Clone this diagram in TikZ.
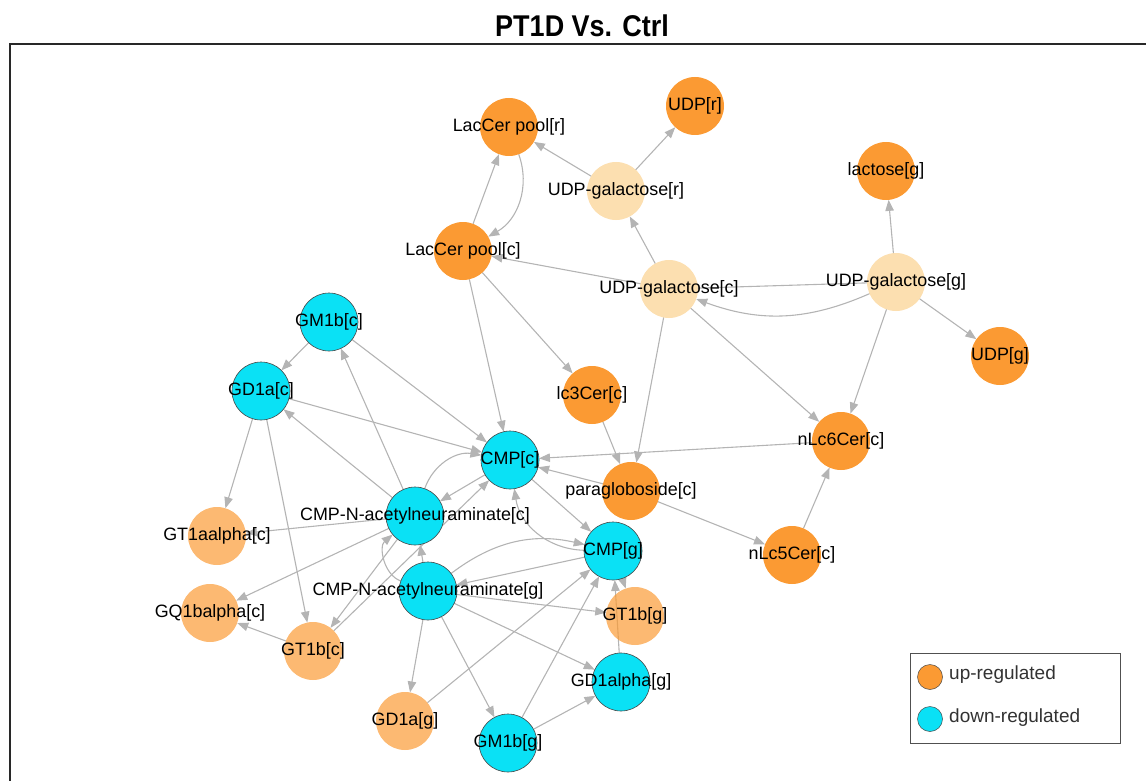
\documentclass[tikz,border=0pt]{standalone}
\usepackage{fontspec}
\setmainfont{Liberation Sans}
\usetikzlibrary{arrows.meta}
\pgfdeclarelayer{bg}
\pgfsetlayers{bg,main}
\definecolor{upc}{RGB}{251,154,51}
\definecolor{plc}{RGB}{248,175,58}
\definecolor{dnc}{RGB}{10,225,245}
\definecolor{bordc}{RGB}{70,70,70}
\definecolor{edgec}{RGB}{180,180,180}
\definecolor{framec}{RGB}{40,40,40}
\begin{document}
\begin{tikzpicture}[x=1pt,y=1pt,
  nd/.style={circle,minimum size=58pt,inner sep=0pt,outer sep=0pt},
  upn/.style={nd,fill=upc},
  ltn/.style={nd,fill=upc,fill opacity=0.69},
  pln/.style={nd,fill=plc,fill opacity=0.4},
  dnn/.style={nd,fill=dnc,draw=bordc,line width=0.6pt},
  lab/.style={font=\fontsize{17.9}{20}\selectfont,text=black,inner sep=0pt},
  lnk/.style={draw=edgec,line width=1.1pt,-{Triangle[length=11pt,width=8.5pt]}},
  pln0/.style={draw=edgec,line width=1.1pt},
  legtxt/.style={font=\fontsize{19}{22}\selectfont,text={rgb,255:red,50;green,50;blue,50},anchor=west,inner sep=0pt}]
\useasboundingbox (0,0) rectangle (1146,-781);
% title and frame
\node (title) at (582,-26) {\scalebox{0.9}[1]{\fontsize{30}{32}\selectfont\bfseries PT1D Vs. Ctrl}};
\draw[framec,line width=1.4pt] (1150,-44) -- (10,-44) -- (10,-790);
% nodes
\node[upn] (laccerr) at (509,-127) {};
\node[upn] (udpr) at (695,-106) {};
\node[pln] (udpgalr) at (616,-191) {};
\node[upn] (laccerc) at (463,-251) {};
\node[pln] (udpgalc) at (669,-289) {};
\node[pln] (udpgalg) at (896,-282) {};
\node[upn] (lactoseg) at (886,-171) {};
\node[upn] (udpg) at (1000,-356) {};
\node[dnn] (gm1bc) at (329,-322) {};
\node[dnn] (gd1ac) at (261,-391) {};
\node[upn] (lc3cerc) at (592,-395) {};
\node[upn] (nlc6cerc) at (841,-441) {};
\node[dnn] (cmpc) at (510,-460) {};
\node[upn] (paraglobc) at (631,-491) {};
\node[dnn] (cmpnacc) at (415,-516) {};
\node[ltn] (gt1aalphac) at (217,-536) {};
\node[upn] (nlc5cerc) at (792,-555) {};
\node[dnn] (cmpg) at (613,-551) {};
\node[dnn] (cmpnacg) at (428,-591) {};
\node[ltn] (gt1bg) at (635,-616) {};
\node[ltn] (gq1balphac) at (210,-613) {};
\node[ltn] (gt1bc) at (313,-651) {};
\node[dnn] (gd1alphag) at (621,-682) {};
\node[ltn] (gd1ag) at (405,-721) {};
\node[dnn] (gm1bg) at (508,-743) {};
% edges
\begin{pgfonlayer}{bg}
\draw[lnk] (udpgalr) -- (laccerr);
\draw[lnk] (udpgalr) -- (udpr);
\draw[lnk] (laccerc) -- (laccerr);
\draw[lnk] (laccerr) to[bend left=40] (laccerc);
\draw[lnk] (udpgalc) -- (udpgalr);
\draw[lnk] (udpgalc) -- (laccerc);
\draw[pln0] (udpgalc) -- (udpgalg);
\draw[lnk] (udpgalg) to[bend left=22] (udpgalc);
\draw[lnk] (udpgalg) -- (lactoseg);
\draw[lnk] (udpgalg) -- (udpg);
\draw[lnk] (udpgalg) -- (nlc6cerc);
\draw[lnk] (udpgalc) -- (nlc6cerc);
\draw[lnk] (udpgalc) -- (paraglobc);
\draw[lnk] (laccerc) -- (cmpc);
\draw[lnk] (laccerc) -- (lc3cerc);
\draw[lnk] (lc3cerc) -- (paraglobc);
\draw[lnk] (nlc6cerc) -- (cmpc);
\draw[lnk] (paraglobc) -- (cmpc);
\draw[lnk] (paraglobc) -- (nlc5cerc);
\draw[lnk] (nlc5cerc) -- (nlc6cerc);
\draw[lnk] (gm1bc) -- (gd1ac);
\draw[lnk] (gm1bc) -- (cmpc);
\draw[lnk] (gd1ac) -- (cmpc);
\draw[lnk] (gd1ac) -- (gt1aalphac);
\draw[lnk] (gd1ac) -- (gt1bc);
\draw[lnk] (cmpnacc) -- (gm1bc);
\draw[lnk] (cmpnacc) -- (gd1ac);
\draw[lnk] (cmpnacc) to[bend left=40] (cmpc);
\draw[lnk] (cmpc) -- (cmpnacc);
\draw[lnk] (gt1bc) -- (cmpc);
\draw[lnk] (cmpnacc) -- (gt1aalphac);
\draw[lnk] (cmpnacc) -- (gq1balphac);
\draw[lnk] (cmpnacc) -- (gt1bc);
\draw[lnk] (cmpnacg) -- (cmpnacc);
\draw[lnk] (cmpnacg) to[bend left=60] (cmpnacc);
\draw[lnk] (cmpc) -- (cmpg);
\draw[lnk] (cmpg) to[bend left=40] (cmpc);
\draw[lnk] (cmpnacg) to[bend left=25] (cmpg);
\draw[lnk] (cmpg) -- (cmpnacg);
\draw[lnk] (cmpnacg) -- (gt1bg);
\draw[lnk] (cmpnacg) -- (gd1alphag);
\draw[lnk] (cmpnacg) -- (gd1ag);
\draw[lnk] (cmpnacg) -- (gm1bg);
\draw[lnk] (gm1bg) -- (gd1alphag);
\draw[lnk] (gm1bg) -- (cmpg);
\draw[lnk] (gd1ag) -- (cmpg);
\draw[lnk] (gd1alphag) -- (cmpg);
\draw[lnk] (cmpg) -- (gt1bg);
\draw[lnk] (gt1bc) -- (gq1balphac);
\end{pgfonlayer}
% labels
\node[lab] at (laccerr) {LacCer pool[r]};
\node[lab] at (udpr) {UDP[r]};
\node[lab] at (udpgalr) {UDP-galactose[r]};
\node[lab] at (laccerc) {LacCer pool[c]};
\node[lab] at (udpgalc) {UDP-galactose[c]};
\node[lab] at (udpgalg) {UDP-galactose[g]};
\node[lab] at (lactoseg) {lactose[g]};
\node[lab] at (udpg) {UDP[g]};
\node[lab] at (gm1bc) {GM1b[c]};
\node[lab] at (gd1ac) {GD1a[c]};
\node[lab] at (lc3cerc) {lc3Cer[c]};
\node[lab] at (nlc6cerc) {nLc6Cer[c]};
\node[lab] at (cmpc) {CMP[c]};
\node[lab] at (paraglobc) {paragloboside[c]};
\node[lab] at (cmpnacc) {CMP-N-acetylneuraminate[c]};
\node[lab] at (gt1aalphac) {GT1aalpha[c]};
\node[lab] at (nlc5cerc) {nLc5Cer[c]};
\node[lab] at (cmpg) {CMP[g]};
\node[lab] at (cmpnacg) {CMP-N-acetylneuraminate[g]};
\node[lab] at (gt1bg) {GT1b[g]};
\node[lab] at (gq1balphac) {GQ1balpha[c]};
\node[lab] at (gt1bc) {GT1b[c]};
\node[lab] at (gd1alphag) {GD1alpha[g]};
\node[lab] at (gd1ag) {GD1a[g]};
\node[lab] at (gm1bg) {GM1b[g]};
% legend
\node[draw={rgb,255:red,80;green,80;blue,80},line width=1pt,minimum width=210pt,minimum height=90pt,inner sep=0pt,anchor=north west] (legend) at (910,-653) {};
\node[circle,minimum size=25pt,inner sep=0pt,fill=upc,draw=bordc,line width=0.5pt] (legup) at (930,-677) {};
\node[circle,minimum size=25pt,inner sep=0pt,fill=dnc,draw=bordc,line width=0.5pt] (legdn) at (930,-719) {};
\node[legtxt] (legupt) at (949,-675) {up-regulated};
\node[legtxt] (legdnt) at (949,-718) {down-regulated};
\end{tikzpicture}
\end{document}
